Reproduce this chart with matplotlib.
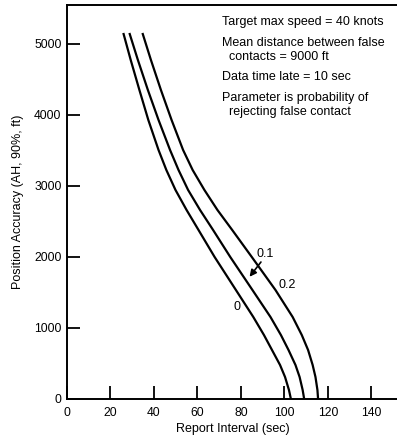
import matplotlib
matplotlib.use('Agg')
import matplotlib.pyplot as plt

plt.rcParams['font.family'] = ['Liberation Sans', 'DejaVu Sans']

# 曲线数据 (参数: 拒绝虚假接触的概率)
acc_p0 = [5155, 4775, 4352, 3930, 3507, 3225, 2944, 2662, 2380, 2000, 1535, 1155, 901, 690, 479, 310, 127, 0]
int_p0 = [25.9, 29.3, 33.3, 37.4, 42.1, 45.7, 49.9, 55.0, 60.5, 67.9, 77.7, 85.7, 90.6, 94.3, 98.0, 100.3, 102.1, 103.0]

acc_p1 = [5155, 4775, 4352, 3930, 3507, 3225, 2944, 2662, 2380, 2000, 1535, 1155, 901, 690, 479, 310, 127, 0]
int_p1 = [28.7, 32.6, 37.2, 42.1, 47.4, 51.3, 55.7, 61.2, 67.2, 75.1, 85.3, 93.6, 98.4, 101.9, 105.1, 107.0, 108.4, 109.1]

acc_p2 = [5155, 4775, 4352, 3930, 3507, 3225, 2944, 2662, 2380, 2000, 1535, 1155, 901, 690, 479, 310, 127, 0]
int_p2 = [34.7, 38.6, 43.2, 48.1, 53.4, 57.8, 63.2, 69.2, 76.0, 85.0, 95.9, 103.8, 108.0, 110.9, 113.0, 114.3, 115.2, 115.5]

x_ticks = [0, 20, 40, 60, 80, 100, 120, 140]
y_ticks = [0, 1000, 2000, 3000, 4000, 5000]

notes = ['Target max speed = 40 knots',
         'Mean distance between false\n  contacts = 9000 ft',
         'Data time late = 10 sec',
         'Parameter is probability of\n  rejecting false contact']

fig = plt.figure(figsize=(3.97, 4.42), dpi=100)
ax = fig.add_axes([0.1688, 0.0973, 0.835, 0.8914])

for xs, ys in [(int_p0, acc_p0), (int_p1, acc_p1), (int_p2, acc_p2)]:
    ax.plot(xs, ys, color='black', lw=1.6, solid_capstyle='butt', solid_joinstyle='round')

ax.set_xlim(0, 152.5)
ax.set_ylim(0, 5549)
ax.set_xticks(x_ticks)
ax.set_yticks(y_ticks)
ax.tick_params(direction='in', length=9.5, width=1.3, labelsize=8.7, colors='black')
ax.tick_params(axis='x', pad=6)
ax.tick_params(axis='y', pad=4)
for s in ['left', 'bottom', 'top']:
    ax.spines[s].set_linewidth(1.4)
ax.spines['right'].set_visible(False)

ax.set_xlabel('Report Interval (sec)', fontsize=9, labelpad=3)
ax.set_ylabel('Position Accuracy (AH, 90%, ft)', fontsize=9, labelpad=7)

# 右上角说明文字
tx = 71.2
ax.text(tx, 5310, notes[0], fontsize=9, va='center')
ax.text(tx, 4915, notes[1], fontsize=9, va='center', linespacing=1.15)
ax.text(tx, 4535, notes[2], fontsize=9, va='center')
ax.text(tx, 4140, notes[3], fontsize=9, va='center', linespacing=1.15)

# 曲线标注
ax.text(78.1, 1290, '0', fontsize=9, ha='center', va='center')
ax.text(91.2, 2048, '0.1', fontsize=9, ha='center', va='center')
ax.text(101.4, 1599, '0.2', fontsize=9, ha='center', va='center')
ax.annotate('', xy=(83.2, 1690), xytext=(90.0, 1960),
            arrowprops=dict(arrowstyle='-|>', color='black', lw=1.2, mutation_scale=10))

fig.savefig('out.png', dpi=100)
